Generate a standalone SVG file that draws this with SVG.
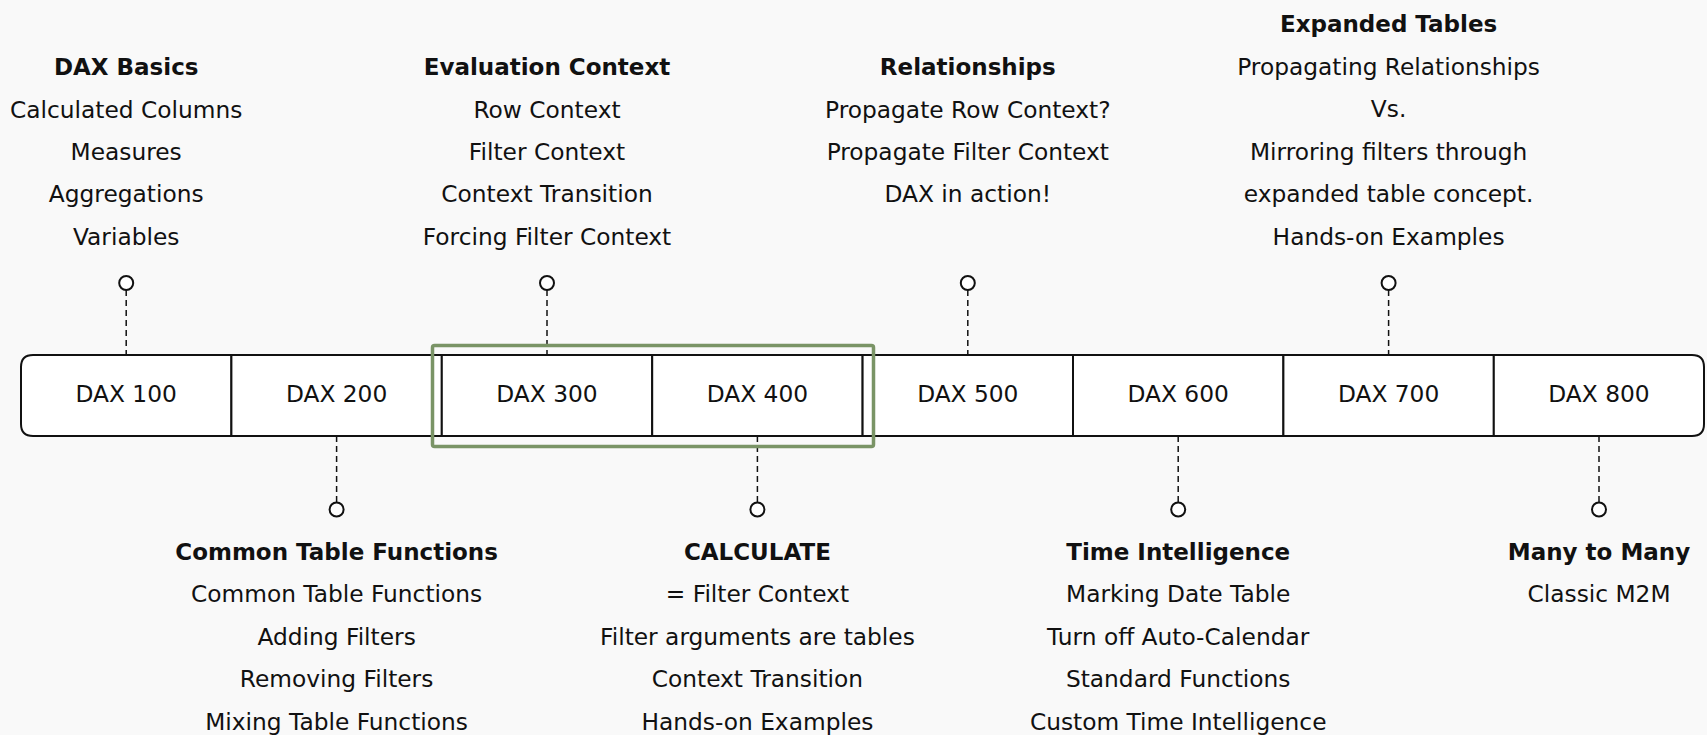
<svg xmlns="http://www.w3.org/2000/svg" width="1707" height="735" viewBox="0 0 1707 735">
<style>
.seg{fill:#ffffff;stroke:#111;stroke-width:2}
.lbl{font-family:"DejaVu Sans","Verdana",sans-serif;font-size:23.3px;fill:#111;text-anchor:middle}
.hd{font-weight:bold;font-size:23px}
.conn{stroke:#111;stroke-width:1.5;stroke-dasharray:6 4;fill:none}
.dot{fill:#fff;stroke:#111;stroke-width:2}
.hl{fill:none;stroke:#7a9466;stroke-width:3.5}
</style>
<rect width="1707" height="735" fill="#f9f9f9"/>
<g id="connectors">
<line class="conn" x1="126.2" y1="290" x2="126.2" y2="355"/>
<circle class="dot" cx="126.2" cy="283" r="7"/>
<line class="conn" x1="547" y1="290" x2="547" y2="355"/>
<circle class="dot" cx="547" cy="283" r="7"/>
<line class="conn" x1="967.8" y1="290" x2="967.8" y2="355"/>
<circle class="dot" cx="967.8" cy="283" r="7"/>
<line class="conn" x1="1388.6" y1="290" x2="1388.6" y2="355"/>
<circle class="dot" cx="1388.6" cy="283" r="7"/>
<line class="conn" x1="336.6" y1="436" x2="336.6" y2="502"/>
<circle class="dot" cx="336.6" cy="509.5" r="7"/>
<line class="conn" x1="757.4" y1="436" x2="757.4" y2="502"/>
<circle class="dot" cx="757.4" cy="509.5" r="7"/>
<line class="conn" x1="1178.2" y1="436" x2="1178.2" y2="502"/>
<circle class="dot" cx="1178.2" cy="509.5" r="7"/>
<line class="conn" x1="1599" y1="436" x2="1599" y2="502"/>
<circle class="dot" cx="1599" cy="509.5" r="7"/>
</g>
<g id="dax100"><path class="seg" d="M231.4 355 H33 Q21 355 21 367 V424 Q21 436 33 436 H231.4 Z"/><text class="lbl" x="126.2" y="402">DAX 100</text></g>
<g id="dax200"><rect class="seg" x="231.4" y="355" width="210.4" height="81"/><text class="lbl" x="336.6" y="402">DAX 200</text></g>
<g id="dax300"><rect class="seg" x="441.8" y="355" width="210.4" height="81"/><text class="lbl" x="547" y="402">DAX 300</text></g>
<g id="dax400"><rect class="seg" x="652.2" y="355" width="210.4" height="81"/><text class="lbl" x="757.4" y="402">DAX 400</text></g>
<g id="dax500"><rect class="seg" x="862.6" y="355" width="210.4" height="81"/><text class="lbl" x="967.8" y="402">DAX 500</text></g>
<g id="dax600"><rect class="seg" x="1073" y="355" width="210.4" height="81"/><text class="lbl" x="1178.2" y="402">DAX 600</text></g>
<g id="dax700"><rect class="seg" x="1283.4" y="355" width="210.4" height="81"/><text class="lbl" x="1388.6" y="402">DAX 700</text></g>
<g id="dax800"><path class="seg" d="M1493.8 355 H1692 Q1704 355 1704 367 V424 Q1704 436 1692 436 H1493.8 Z"/><text class="lbl" x="1599" y="402">DAX 800</text></g>
<g id="highlight"><rect class="hl" x="432.5" y="345.5" width="441" height="101" rx="2"/></g>
<g id="note-basics">
<text class="lbl hd" x="126.2" y="75">DAX Basics</text>
<text class="lbl" x="126.2" y="117.5">Calculated Columns</text>
<text class="lbl" x="126.2" y="160">Measures</text>
<text class="lbl" x="126.2" y="202">Aggregations</text>
<text class="lbl" x="126.2" y="244.5">Variables</text>
</g>
<g id="note-eval">
<text class="lbl hd" x="547" y="75">Evaluation Context</text>
<text class="lbl" x="547" y="117.5">Row Context</text>
<text class="lbl" x="547" y="160">Filter Context</text>
<text class="lbl" x="547" y="202">Context Transition</text>
<text class="lbl" x="547" y="244.5">Forcing Filter Context</text>
</g>
<g id="note-rel">
<text class="lbl hd" x="967.8" y="75">Relationships</text>
<text class="lbl" x="967.8" y="117.5">Propagate Row Context?</text>
<text class="lbl" x="967.8" y="160">Propagate Filter Context</text>
<text class="lbl" x="967.8" y="202">DAX in action!</text>
</g>
<g id="note-expanded">
<text class="lbl hd" x="1388.6" y="32">Expanded Tables</text>
<text class="lbl" x="1388.6" y="74.5">Propagating Relationships</text>
<text class="lbl" x="1388.6" y="117">Vs.</text>
<text class="lbl" x="1388.6" y="159.5">Mirroring filters through</text>
<text class="lbl" x="1388.6" y="202">expanded table concept.</text>
<text class="lbl" x="1388.6" y="244.5">Hands-on Examples</text>
</g>
<g id="note-ctf">
<text class="lbl hd" x="336.6" y="559.5">Common Table Functions</text>
<text class="lbl" x="336.6" y="602">Common Table Functions</text>
<text class="lbl" x="336.6" y="644.5">Adding Filters</text>
<text class="lbl" x="336.6" y="687">Removing Filters</text>
<text class="lbl" x="336.6" y="729.5">Mixing Table Functions</text>
</g>
<g id="note-calc">
<text class="lbl hd" x="757.4" y="559.5">CALCULATE</text>
<text class="lbl" x="757.4" y="602">= Filter Context</text>
<text class="lbl" x="757.4" y="644.5">Filter arguments are tables</text>
<text class="lbl" x="757.4" y="687">Context Transition</text>
<text class="lbl" x="757.4" y="729.5">Hands-on Examples</text>
</g>
<g id="note-time">
<text class="lbl hd" x="1178.2" y="559.5">Time Intelligence</text>
<text class="lbl" x="1178.2" y="602">Marking Date Table</text>
<text class="lbl" x="1178.2" y="644.5">Turn off Auto-Calendar</text>
<text class="lbl" x="1178.2" y="687">Standard Functions</text>
<text class="lbl" x="1178.2" y="729.5">Custom Time Intelligence</text>
</g>
<g id="note-m2m">
<text class="lbl hd" x="1599" y="559.5">Many to Many</text>
<text class="lbl" x="1599" y="602">Classic M2M</text>
</g>
</svg>
